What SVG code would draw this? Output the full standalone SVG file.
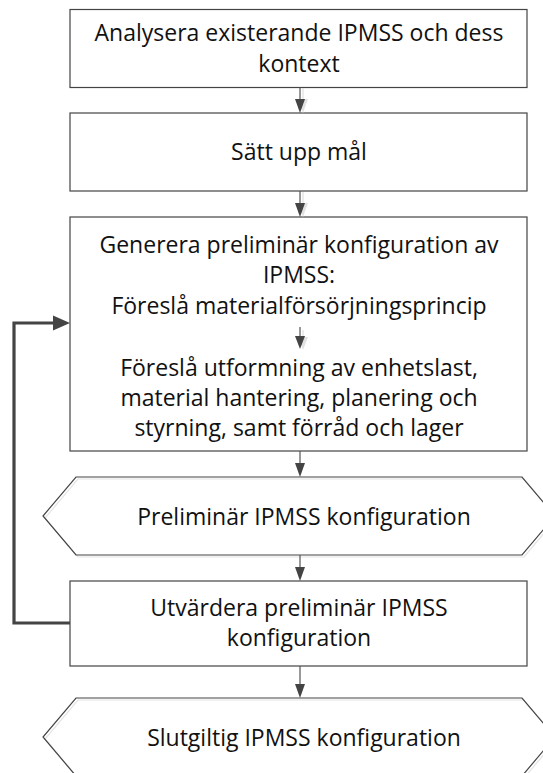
<svg xmlns="http://www.w3.org/2000/svg" width="543" height="773" viewBox="0 0 543 773">
<defs>
<style>
.box{fill:#fff;stroke:#444;stroke-width:1.2}
.hexsh{fill:none;stroke:#e4e4e4;stroke-width:1.2}
.t{font-family:"Open Sans","Noto Sans",sans-serif;font-size:23px;fill:#111;text-anchor:middle}
.c{stroke:#555;stroke-width:1.2;fill:none}
.csh{stroke:#e0e0e0;stroke-width:1.2;fill:none}
.head{fill:#444}
.hsh{fill:#e2e2e2}
.loop{stroke:#444;stroke-width:3.2;fill:none}
</style>
</defs>
<rect width="543" height="773" fill="#fff"/>

<g id="n1">
<rect class="box" x="70" y="9.5" width="457" height="78"/>
<text class="t" x="299" y="41">Analysera existerande IPMSS och dess</text>
<text class="t" x="299" y="72">kontext</text>
</g>

<g id="n2">
<rect class="box" x="70" y="113" width="457" height="78"/>
<text class="t" x="299" y="160">Sätt upp mål</text>
</g>

<g id="n3">
<rect class="box" x="70" y="217" width="457" height="234"/>
<text class="t" x="299" y="253">Generera preliminär konfiguration av</text>
<text class="t" x="299" y="283">IPMSS:</text>
<text class="t" x="299" y="314">Föreslå materialförsörjningsprincip</text>
<text class="t" x="299" y="376">Föreslå utformning av enhetslast,</text>
<text class="t" x="299" y="406">material hantering, planering och</text>
<text class="t" x="299" y="436">styrning, samt förråd och lager</text>
</g>

<g id="n4">
<polygon points="76,477 522,477 555,516 522,555 76,555 43,516" fill="#fff"/>
<polygon class="hexsh" points="78,479 524,479 557,518 524,557 78,557 45,518"/>
<polygon class="box" style="fill:none" points="76,477 522,477 555,516 522,555 76,555 43,516"/>
<text class="t" x="304" y="525">Preliminär IPMSS konfiguration</text>
</g>

<g id="n5">
<rect class="box" x="70" y="581" width="457" height="85"/>
<text class="t" x="299" y="616">Utvärdera preliminär IPMSS</text>
<text class="t" x="299" y="646">konfiguration</text>
</g>

<g id="n6">
<polygon points="76,698 522,698 555,737 522,776 76,776 43,737" fill="#fff"/>
<polygon class="hexsh" points="78,700 524,700 557,739 524,778 78,778 45,739"/>
<polygon class="box" style="fill:none" points="76,698 522,698 555,737 522,776 76,776 43,737"/>
<text class="t" x="304" y="746">Slutgiltig IPMSS konfiguration</text>
</g>

<g id="connectors">
<g id="shadows">
<line class="csh" x1="303" y1="88" x2="303" y2="100"/>
<path class="hsh" d="M298,99 L308,99 L303,113 Z"/>
<line class="csh" x1="303" y1="192" x2="303" y2="204"/>
<path class="hsh" d="M298,203 L308,203 L303,217 Z"/>
<line class="csh" x1="303" y1="330" x2="303" y2="338"/>
<path class="hsh" d="M298,337 L308,337 L303,350 Z"/>
</g>
<path class="c" d="M300,87.5 V101"/>
<path class="head" d="M295,99 L305,99 L300,113 Z"/>
<path class="c" d="M300,191 V205"/>
<path class="head" d="M295,203 L305,203 L300,217 Z"/>
<path class="c" d="M300,327 V338"/>
<path class="head" d="M295,336 L305,336 L300,349 Z"/>
<path class="c" d="M300,451 V465"/>
<path class="head" d="M295,463 L305,463 L300,477 Z"/>
<path class="c" d="M300,555 V569"/>
<path class="head" d="M295,567 L305,567 L300,581 Z"/>
<path class="c" d="M300,666 V686"/>
<path class="head" d="M295,684 L305,684 L300,698 Z"/>
<path class="loop" d="M70,623 H14 V323 H55"/>
<path class="head" d="M53,315.5 L70,323 L53,330.5 Z"/>
</g>
</svg>
